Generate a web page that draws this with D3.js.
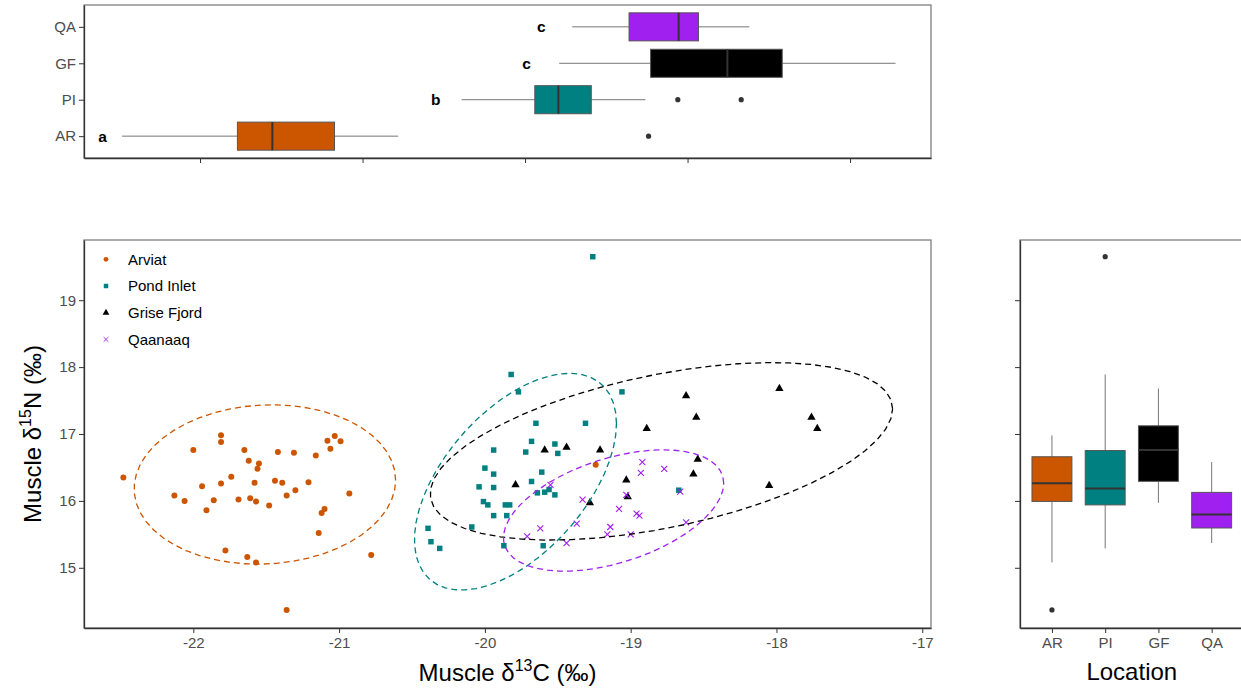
<!DOCTYPE html>
<html>
<head>
<meta charset="utf-8">
<script src="https://cdn.jsdelivr.net/npm/d3@7"></script>
<style>
body { margin: 0; background: #fff; }
</style>
</head>
<body>
<svg width="1241" height="689" font-family="Liberation Sans, Arial, sans-serif"></svg>
<script>

// d13C, d15N per fish
const arviat = [[-22.48,16.35],[-22.13,16.08],[-22.06,16.00],[-22.00,16.76],[-21.94,16.22],[-21.91,15.86],[-21.86,16.01],
    [-21.81,16.26],[-21.81,16.98],[-21.81,16.88],[-21.78,15.26],[-21.74,16.36],[-21.69,16.02],[-21.65,16.76],[-21.63,15.16],
    [-21.62,16.60],[-21.61,16.04],[-21.58,16.27],[-21.57,15.99],[-21.57,15.08],[-21.56,16.48],[-21.55,16.56],[-21.48,15.93],
    [-21.44,16.30],[-21.42,16.73],[-21.39,16.27],[-21.36,16.08],[-21.36,14.37],[-21.31,16.72],[-21.30,16.16],[-21.21,16.28],
    [-21.16,16.68],[-21.14,15.52],[-21.12,15.82],[-21.10,15.88],[-21.08,16.90],[-21.06,16.78],[-21.03,16.97],[-20.99,16.89],
    [-20.93,16.11],[-20.78,15.19],[-19.24,16.54]];

const pondInlet = [[-19.26,19.65],[-19.82,17.89],[-19.77,17.63],[-19.06,17.63],[-19.65,17.16],[-19.31,17.16],[-19.68,16.89],
    [-19.94,16.76],[-19.72,16.73],[-19.52,16.85],[-19.50,16.71],[-20.00,16.49],[-19.94,16.40],[-19.61,16.43],[-20.04,16.21],
    [-19.94,16.20],[-19.68,16.29],[-19.64,16.12],[-19.59,16.13],[-19.56,16.17],[-19.52,16.09],[-20.01,15.99],[-19.98,15.94],
    [-19.86,15.94],[-19.83,15.94],[-19.94,15.78],[-19.85,15.78],[-20.39,15.59],[-20.09,15.61],[-20.37,15.39],[-20.31,15.29],
    [-19.87,15.33],[-19.60,15.33],[-18.67,16.16]];

const griseFjord = [[-18.62,17.57],[-18.55,17.25],[-18.89,17.08],[-19.59,16.76],[-19.44,16.80],[-19.21,16.76],[-18.54,16.62],
    [-18.57,16.40],[-19.03,16.31],[-19.79,16.24],[-19.02,16.06],[-19.28,15.97],[-17.98,17.68],[-17.76,17.25],[-17.72,17.08],
    [-18.05,16.23]];

const qaanaaq = [[-18.92,16.58],[-18.93,16.42],[-18.77,16.48],[-19.55,16.24],[-19.03,16.09],[-18.66,16.14],[-19.33,16.02],
    [-19.08,15.88],[-18.96,15.81],[-18.94,15.78],[-19.37,15.66],[-19.14,15.61],[-19.62,15.59],[-19.16,15.50],[-19.71,15.47],
    [-19.00,15.50],[-18.62,15.68],[-19.44,15.37]];

const locations = ["AR", "PI", "GF", "QA"];
const locationNames = ["Arviat", "Pond Inlet", "Grise Fjord", "Qaanaaq"];
const colors = ["#cc5500", "#008080", "#000000", "#a020f0"];

// significance letters of the d13C boxplot
const c13Letters = ["a", "b", "c", "c"];
const c13LetterX = [-22.6, -20.55, -19.99, -19.9];

const xTicks = [-22, -21, -20, -19, -18, -17];
const yTicks = [15, 16, 17, 18, 19];
const topTicks = [-22, -21, -20, -19, -18];

const groups = [arviat, pondInlet, griseFjord, qaanaaq];

const svg = d3.select("svg");

const mainP = {left: 84, right: 931, top: 240, bottom: 628};
const topP = {left: 84, right: 931, top: 5, bottom: 158};
const sideP = {left: 1020, right: 1243.6, top: 240, bottom: 628};

const x = d3.scaleLinear().domain([-22.75, -16.94]).range([mainP.left, mainP.right]);
const y = d3.scaleLinear().domain([14.1, 19.9]).range([mainP.bottom, mainP.top]);
const xTop = d3.scaleLinear().domain([-22.714, -17.502]).range([topP.left, topP.right]);
const yTop = d3.scalePoint().domain(locations).range([topP.bottom, topP.top]).padding(0.6);
const xSide = d3.scalePoint().domain(locations).range([sideP.left, sideP.right]).padding(0.6);

// ---- helpers

function boxStats(values) {
    const v = values.slice().sort(d3.ascending);
    const q1 = d3.quantileSorted(v, 0.25), med = d3.quantileSorted(v, 0.5), q3 = d3.quantileSorted(v, 0.75);
    const lo = q1 - 1.5 * (q3 - q1), hi = q3 + 1.5 * (q3 - q1);
    const inside = v.filter(d => d >= lo && d <= hi);
    return {q1, med, q3, lo: d3.min(inside), hi: d3.max(inside), out: v.filter(d => d < lo || d > hi)};
}

// robust t covariance (like MASS::cov.trob) used by stat_ellipse
function covTrob(pts, nu = 5) {
    const n = pts.length;
    let loc = [d3.mean(pts, p => p[0]), d3.mean(pts, p => p[1])];
    let w = pts.map(() => 1);
    let X;
    for (let it = 0; it < 50; it++) {
        const w0 = w;
        X = pts.map(p => [p[0] - loc[0], p[1] - loc[1]]);
        const sw = d3.sum(w);
        let a = 0, b = 0, c = 0;
        X.forEach((d, i) => { a += w[i] * d[0] * d[0]; b += w[i] * d[0] * d[1]; c += w[i] * d[1] * d[1]; });
        a /= sw; b /= sw; c /= sw;
        const det = a * c - b * b;
        w = X.map(d => (nu + 2) / (nu + (c * d[0] * d[0] - 2 * b * d[0] * d[1] + a * d[1] * d[1]) / det));
        const sw2 = d3.sum(w);
        loc = [d3.sum(pts, (p, i) => w[i] * p[0]) / sw2, d3.sum(pts, (p, i) => w[i] * p[1]) / sw2];
        if (d3.max(w, (v, i) => Math.abs(v - w0[i])) < 1e-4) break;
    }
    let a = 0, b = 0, c = 0;
    X.forEach((d, i) => { a += w[i] * d[0] * d[0]; b += w[i] * d[0] * d[1]; c += w[i] * d[1] * d[1]; });
    return {loc, cov: [a / n, b / n, c / n]};
}

function ellipse(pts, level = 0.95) {
    const {loc, cov} = covTrob(pts);
    const dfd = pts.length - 1;
    const radius = Math.sqrt(dfd * (Math.pow(1 - level, -2 / dfd) - 1));
    const r11 = Math.sqrt(cov[0]), r12 = cov[1] / r11, r22 = Math.sqrt(cov[2] - r12 * r12);
    return d3.range(52).map(k => {
        const t = k * 2 * Math.PI / 51;
        return [loc[0] + radius * r11 * Math.cos(t), loc[1] + radius * (r12 * Math.cos(t) + r22 * Math.sin(t))];
    });
}

// ggplot-like axis look: dark line, gray 15px labels
function styleAxis(g) {
    g.attr("font-size", 15).attr("font-family", "Liberation Sans, Arial, sans-serif");
    g.select(".domain").attr("stroke", "#333").attr("stroke-width", 1.3);
    g.selectAll(".tick line").attr("stroke", "#333");
    g.selectAll(".tick text").attr("fill", "#4d4d4d");
}

const crossSymbol = {
    draw(ctx, size) {
        const r = Math.sqrt(size) / 2;
        ctx.moveTo(-r, -r); ctx.lineTo(r, r);
        ctx.moveTo(-r, r); ctx.lineTo(r, -r);
    }
};
const shapes = [d3.symbolCircle, d3.symbolSquare, d3.symbolTriangle, crossSymbol];
const sizes = [28, 30, 30, 36];
const legendSizes = [18, 20, 20, 22];

function panelFrame(p) {
    svg.append("rect")
        .attr("x", p.left).attr("y", p.top)
        .attr("width", p.right - p.left).attr("height", p.bottom - p.top)
        .attr("fill", "none").attr("stroke", "#7f7f7f").attr("stroke-width", 1.3);
}

// ---- top panel: d13C boxplot

panelFrame(topP);

locations.forEach((loc, i) => {
    const s = boxStats(groups[i].map(p => p[0]));
    const yc = yTop(loc), half = yTop.step() * 0.385;
    const g = svg.append("g");
    g.append("line").attr("x1", xTop(s.lo)).attr("x2", xTop(s.q1)).attr("y1", yc).attr("y2", yc)
        .attr("stroke", "#777");
    g.append("line").attr("x1", xTop(s.q3)).attr("x2", xTop(s.hi)).attr("y1", yc).attr("y2", yc)
        .attr("stroke", "#777");
    g.append("rect").attr("x", xTop(s.q1)).attr("width", xTop(s.q3) - xTop(s.q1))
        .attr("y", yc - half).attr("height", 2 * half)
        .attr("fill", colors[i]).attr("stroke", "#555");
    g.append("line").attr("x1", xTop(s.med)).attr("x2", xTop(s.med)).attr("y1", yc - half).attr("y2", yc + half)
        .attr("stroke", "#333").attr("stroke-width", 2);
    g.selectAll("circle").data(s.out).enter().append("circle")
        .attr("cx", d => xTop(d)).attr("cy", yc).attr("r", 2.6).attr("fill", "#333");
    g.append("text").attr("x", xTop(c13LetterX[i])).attr("y", yc).attr("dy", "0.35em")
        .attr("text-anchor", "middle").attr("font-size", 15.5).attr("font-weight", "bold")
        .text(c13Letters[i]);
});

svg.append("g")
    .attr("transform", "translate(0," + topP.bottom + ")")
    .call(d3.axisBottom(xTop).tickValues(topTicks).tickSize(5).tickSizeOuter(0).tickFormat(""))
    .call(styleAxis);

svg.append("g")
    .attr("transform", "translate(" + topP.left + ",0)")
    .call(d3.axisLeft(yTop).tickSize(5).tickSizeOuter(0).tickPadding(3))
    .call(styleAxis);

// ---- main panel: scatter with ellipses

panelFrame(mainP);

groups.forEach((pts, i) => {
    const isCross = i === 3;
    svg.append("g").selectAll("path").data(pts).enter().append("path")
        .attr("transform", d => "translate(" + x(d[0]) + "," + y(d[1]) + ")")
        .attr("d", d3.symbol().type(shapes[i]).size(sizes[i]))
        .attr("fill", isCross ? "none" : colors[i])
        .attr("stroke", isCross ? colors[i] : "none")
        .attr("stroke-width", 1.1);
});

const ellipseLine = d3.line().x(d => x(d[0])).y(d => y(d[1]));
groups.forEach((pts, i) => {
    svg.append("path")
        .attr("d", ellipseLine(ellipse(pts)))
        .attr("fill", "none")
        .attr("stroke", colors[i])
        .attr("stroke-width", 1.3)
        .attr("stroke-dasharray", "6,4");
});

svg.append("g")
    .attr("transform", "translate(0," + mainP.bottom + ")")
    .call(d3.axisBottom(x).tickValues(xTicks).tickSize(5).tickSizeOuter(0).tickPadding(4.5).tickFormat(d => String(d)))
    .call(styleAxis);

svg.append("g")
    .attr("transform", "translate(" + mainP.left + ",0)")
    .call(d3.axisLeft(y).tickValues(yTicks).tickSize(5).tickSizeOuter(0).tickPadding(3).tickFormat(d => String(d)))
    .call(styleAxis);

// legend
const legend = svg.append("g")
    .selectAll("g")
    .data(locationNames)
    .enter().append("g")
    .attr("transform", (d, i) => "translate(106," + (259.3 + i * 26.7) + ")");

legend.append("path")
    .attr("d", (d, i) => d3.symbol().type(shapes[i]).size(legendSizes[i])())
    .attr("fill", (d, i) => i === 3 ? "none" : colors[i])
    .attr("stroke", (d, i) => i === 3 ? colors[i] : "none")
    .attr("stroke-width", 0.9);

legend.append("text")
    .attr("x", 22)
    .attr("dy", "0.35em")
    .attr("font-size", 15)
    .text(d => d);

// axis titles
const xTitle = svg.append("text")
    .attr("x", (mainP.left + mainP.right) / 2).attr("y", 681)
    .attr("text-anchor", "middle").attr("font-size", 24);
xTitle.append("tspan").text("Muscle \u03b4");
xTitle.append("tspan").attr("dy", -10).attr("font-size", 16).text("13");
xTitle.append("tspan").attr("dy", 10).text("C (\u2030)");

const yTitle = svg.append("text")
    .attr("transform", "translate(41," + (mainP.top + mainP.bottom) / 2 + ") rotate(-90)")
    .attr("text-anchor", "middle").attr("font-size", 24);
yTitle.append("tspan").text("Muscle \u03b4");
yTitle.append("tspan").attr("dy", -10).attr("font-size", 16).text("15");
yTitle.append("tspan").attr("dy", 10).text("N (\u2030)");

// ---- side panel: d15N boxplot

panelFrame(sideP);

locations.forEach((loc, i) => {
    const s = boxStats(groups[i].map(p => p[1]));
    const xc = xSide(loc), half = xSide.step() * 0.375;
    const g = svg.append("g");
    g.append("line").attr("x1", xc).attr("x2", xc).attr("y1", y(s.lo)).attr("y2", y(s.q1)).attr("stroke", "#777");
    g.append("line").attr("x1", xc).attr("x2", xc).attr("y1", y(s.q3)).attr("y2", y(s.hi)).attr("stroke", "#777");
    g.append("rect").attr("x", xc - half).attr("width", 2 * half)
        .attr("y", y(s.q3)).attr("height", y(s.q1) - y(s.q3))
        .attr("fill", colors[i]).attr("stroke", "#555");
    g.append("line").attr("x1", xc - half).attr("x2", xc + half).attr("y1", y(s.med)).attr("y2", y(s.med))
        .attr("stroke", "#333").attr("stroke-width", 2);
    g.selectAll("circle").data(s.out).enter().append("circle")
        .attr("cx", xc).attr("cy", d => y(d)).attr("r", 2.6).attr("fill", "#333");
});

svg.append("g")
    .attr("transform", "translate(0," + sideP.bottom + ")")
    .call(d3.axisBottom(xSide).tickSize(5).tickSizeOuter(0).tickPadding(4.5))
    .call(styleAxis);

svg.append("g")
    .attr("transform", "translate(" + sideP.left + ",0)")
    .call(d3.axisLeft(y).tickValues(yTicks).tickSize(5).tickSizeOuter(0).tickFormat(""))
    .call(styleAxis);

svg.append("text")
    .attr("x", (sideP.left + sideP.right) / 2).attr("y", 680)
    .attr("text-anchor", "middle").attr("font-size", 24)
    .text("Location");

</script>
</body>
</html>
